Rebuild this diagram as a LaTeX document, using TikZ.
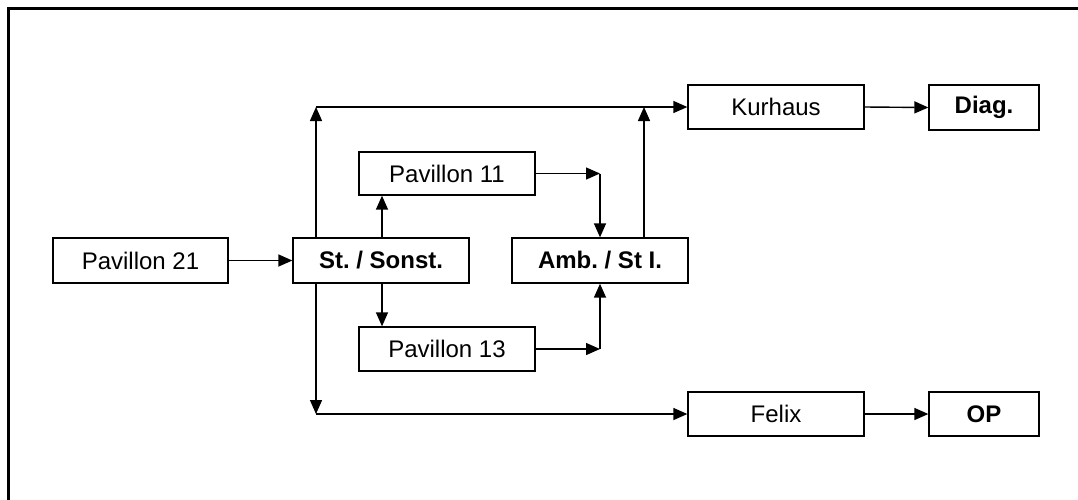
\documentclass[tikz,border=0pt]{standalone}
\usepackage{fontspec}
\setmainfont{Liberation Sans}
\usetikzlibrary{arrows.meta}
\frenchspacing
\begin{document}
\begin{tikzpicture}[x=1pt,y=-1pt,
  box/.style={draw,line width=1.3pt,inner sep=0pt,minimum width=176pt,minimum height=44pt,font=\fontsize{24}{28}\selectfont},
  bbox/.style={box,font=\fontsize{24}{28}\selectfont\bfseries},
  arr/.style={line width=1.4pt,-{Triangle[length=14pt,width=12pt]}},
  frame/.style={line width=3pt}]
\useasboundingbox (0,0) rectangle (1078,499);
\draw[frame] (8,510) -- (8,8) -- (1090,8);
% nodes
\node[box,minimum width=175pt,minimum height=45pt] (p21) at (140.5,260.5) {Pavillon 21};
\node[bbox,minimum height=45pt] (st) at (381,260.5) {St.\ / Sonst.};
\node[bbox,minimum height=45pt] (amb) at (600,260.5) {Amb.\ / St I.};
\node[box,minimum height=43pt] (p11) at (447,173.5) {Pavillon 11};
\node[box] (p13) at (447,349) {Pavillon 13};
\node[box] (kur) at (776,107) {Kurhaus};
\node[bbox,minimum width=110pt,minimum height=45pt] (diag) at (984,107.5) {Diag.};
\node[box] (fel) at (776,414) {Felix};
\node[bbox,minimum width=110pt] (op) at (984,414) {OP};
% coordinates
\coordinate (tl) at (316,107);
\coordinate (tr) at (644,107);
\coordinate (bl) at (316,414);
\coordinate (mid) at (382,0);
\coordinate (c2) at (600,173.5);
\coordinate (c3) at (600,349);
% connectors
\draw[arr] (p21.east) -- (st.west);
\draw[arr] (st.north -| tl) -- (tl);
\draw[arr] (tl) -- (kur.west);
\draw[arr] (amb.north -| tr) -- (tr);
\draw[arr] (st.north -| mid) -- (p11.south -| mid);
\draw[arr] (st.south -| mid) -- (p13.north -| mid);
\draw[arr] (p11.east) -- (c2);
\draw[arr] (c2) -- (amb.north);
\draw[arr] (p13.east) -- (c3);
\draw[arr] (c3) -- (amb.south);
\draw[arr] (st.south -| bl) -- (bl);
\draw[arr] (bl) -- (fel.west);
\draw[arr] (kur.east) -- (diag.west);
\draw[arr] (fel.east) -- (op.west);
\end{tikzpicture}
\end{document}
